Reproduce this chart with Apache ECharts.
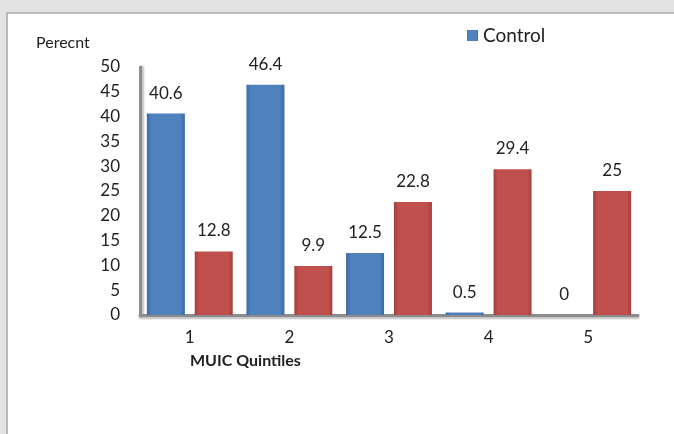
<!DOCTYPE html>
<html>
<head>
<meta charset="utf-8">
<script src="https://cdn.jsdelivr.net/npm/echarts@6/dist/echarts.min.js"></script>
<style>
html,body{margin:0;padding:0;background:#e3e3e3;}
#chart{width:674px;height:434px;}
</style>
</head>
<body>
<div id="chart"></div>
<script>
var categories = ['1', '2', '3', '4', '5'];
var controlValues = [40.6, 46.4, 12.5, 0.5, 0];
var caseValues = [12.8, 9.9, 22.8, 29.4, 25];
var yTicks = [0, 5, 10, 15, 20, 25, 30, 35, 40, 45, 50];

var FONT = 'Lato, "Open Sans", sans-serif';

function grad(edge, mid) {
  return new echarts.graphic.LinearGradient(0, 0, 1, 0, [
    {offset: 0, color: edge},
    {offset: 0.12, color: mid},
    {offset: 0.88, color: mid},
    {offset: 1, color: edge}
  ]);
}

var chart = echarts.init(document.getElementById('chart'));
chart.setOption({
  backgroundColor: '#e3e3e3',
  animation: false,
  graphic: [
    {type: 'rect', z: -10, shape: {x: 7, y: 13, width: 700, height: 440},
     style: {fill: '#ffffff', stroke: '#a6a6a6', lineWidth: 1.5}},
    {type: 'text', left: 36, top: 35,
     style: {text: 'Perecnt', font: '16px ' + FONT, fill: '#222'}},
    {type: 'text', left: 190, top: 353,
     style: {text: 'MUIC Quintiles', font: 'bold 16px ' + FONT, fill: '#222'}}
  ],
  legend: {
    data: ['Control'],
    left: 462, top: 21,
    itemWidth: 11, itemHeight: 11, itemGap: 6,
    icon: 'rect',
    textStyle: {fontSize: 19, color: '#222', fontFamily: FONT}
  },
  grid: {left: 140, right: 36, top: 67, bottom: 119},
  xAxis: {
    type: 'category',
    data: categories,
    axisLine: {lineStyle: {color: '#8c8c8c', width: 3, shadowColor: 'rgba(0,0,0,0.25)', shadowOffsetY: 2, shadowBlur: 2}},
    axisTick: {show: false},
    axisLabel: {fontSize: 17, color: '#222', fontFamily: FONT, margin: 14}
  },
  yAxis: {
    type: 'value',
    min: 0, max: 50, interval: 5,
    axisLine: {show: true, lineStyle: {color: '#8c8c8c', width: 3, shadowColor: 'rgba(0,0,0,0.25)', shadowOffsetX: 2, shadowBlur: 2}},
    axisTick: {show: false},
    splitLine: {show: false},
    axisLabel: {fontSize: 17, color: '#222', fontFamily: FONT, margin: 20,
      formatter: function (v) { return yTicks.indexOf(v) >= 0 ? String(v) : ''; }}
  },
  series: [
    {
      name: 'Control', type: 'bar', data: controlValues,
      barWidth: 38, barGap: '26%',
      itemStyle: {color: grad('#3b6aa6', '#4f81bd')},
      label: {show: true, position: 'top', distance: 12, fontSize: 17, color: '#222', fontFamily: FONT}
    },
    {
      name: 'Case', type: 'bar', data: caseValues,
      barWidth: 38,
      itemStyle: {color: grad('#a33f3c', '#c0504d')},
      label: {show: true, position: 'top', distance: 12, fontSize: 17, color: '#222', fontFamily: FONT}
    }
  ]
});
</script>
</body>
</html>
